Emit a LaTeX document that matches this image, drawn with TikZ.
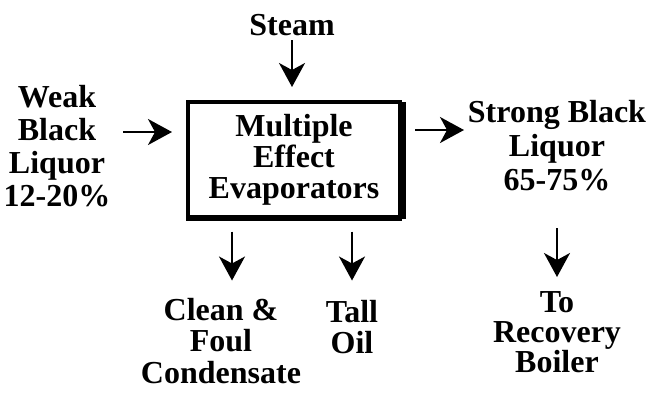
\documentclass[tikz,border=0pt]{standalone}
\usepackage{fontspec}
\setmainfont{Liberation Serif}
\usetikzlibrary{arrows.meta}
\begin{document}
\begin{tikzpicture}[x=1pt,y=-1pt,
  lbl/.style={font=\fontsize{32}{#1}\selectfont\bfseries, align=center, inner sep=0pt, anchor=base},
  lbl/.default=31,
  flow/.style={line width=2pt, -{Stealth[length=24pt,width=26pt,inset=7pt]}},
  unit/.style={draw, line width=4pt, minimum width=212pt, minimum height=117pt, inner sep=0pt}]
\useasboundingbox (0,0) rectangle (652,392);

% evaporator block with heavier right and bottom edges
\node[lbl, unit, anchor=center] (evap) at (294,160) {Multiple\\Effect\\Evaporators};
\fill (398,102) rectangle (406,219);
\fill (190,215) rectangle (406,219);

% stream labels (placed by the baseline of their last line)
\node[lbl] (steam) at (292,35) {Steam};
\node[lbl=33] (weak) at (57,206) {Weak\\Black\\Liquor\\12-20\%};
\node[lbl=34] (strong) at (557,190) {Strong Black\\Liquor\\65-75\%};
\node[lbl=31.5] (cond) at (221,383) {Clean \&\\Foul\\Condensate};
\node[lbl=31] (tall) at (352,353) {Tall\\Oil};
\node[lbl=30] (boiler) at (557,372) {To\\Recovery\\Boiler};

% flows
\draw[flow] (steam.base) ++(0,5) -- ++(0,47);
\draw[flow] (evap.west) ++(-63,-28) -- ++(49,0);
\draw[flow] (evap.east) ++(13,-30) -- ++(49,0);
\draw[flow] (evap.south) ++(-62,11) -- ++(0,49);
\draw[flow] (evap.south) ++(58,11) -- ++(0,49);
\draw[flow] (strong.base) ++(0,38) -- ++(0,49);
\end{tikzpicture}
\end{document}
